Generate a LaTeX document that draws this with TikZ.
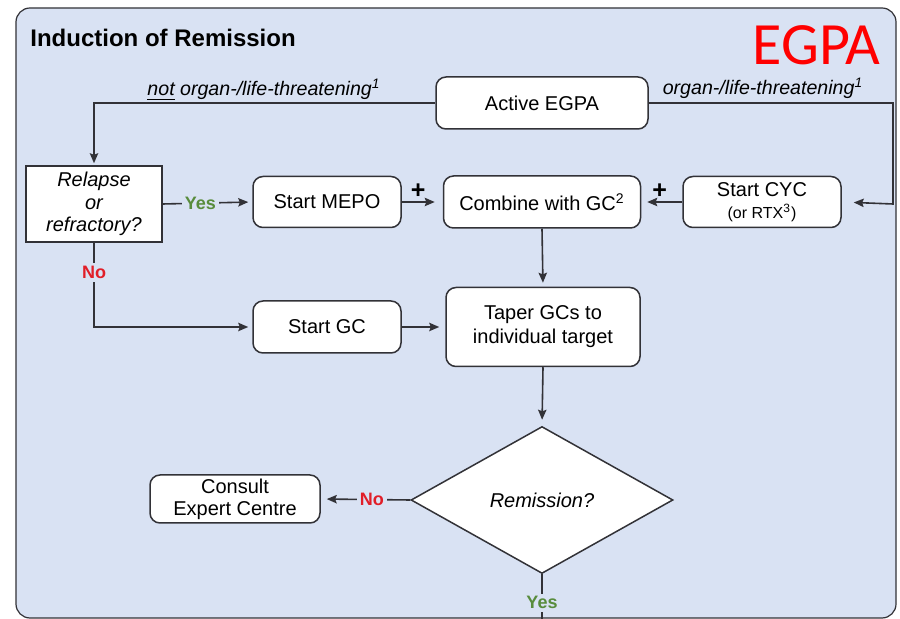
\documentclass[tikz,border=0pt]{standalone}
\usepackage{fontspec}
\setmainfont{Liberation Sans}
\newfontfamily\egpafont{Carlito}
\usetikzlibrary{shapes.geometric,arrows.meta}
\definecolor{panelblue}{RGB}{217,226,243}
\definecolor{linegray}{RGB}{50,50,55}
\definecolor{yesgreen}{RGB}{88,140,60}
\definecolor{nored}{RGB}{225,30,40}
\begin{document}
\begin{tikzpicture}[x=0.5pt,y=-0.5pt,
  box/.style={draw=linegray, line width=0.75pt, fill=white, rounded corners=5pt, align=center, font=\fontsize{10}{12}\selectfont, inner sep=0pt},
  arr/.style={draw=linegray, line width=0.8pt, -{Stealth[length=5pt,width=4.2pt,inset=0.8pt]}},
  ln/.style={draw=linegray, line width=0.8pt},
  lab/.style={fill=panelblue, inner sep=1.5pt, font=\bfseries\fontsize{9}{11}\selectfont},
  cond/.style={font=\itshape\fontsize{9.8}{12}\selectfont, anchor=base, inner sep=0pt},
  plus/.style={font=\bfseries\fontsize{12.5}{13}\selectfont, inner sep=1.5pt},
]
\useasboundingbox (0,0) rectangle (900,619);
\fill[white] (0,0) rectangle (900,619);
\draw[draw=linegray, line width=0.6pt, fill=panelblue, rounded corners=7pt] (16,8) rectangle (896,618);

\node[anchor=base west, inner sep=0pt, font=\bfseries\fontsize{12}{14}\selectfont] (title) at (30,47) {Induction of Remission};
\node[anchor=base east, inner sep=0pt, text=red, font=\egpafont\fontsize{30}{36}\selectfont] (egpa) at (881,65) {EGPA};

\node[box, minimum width=106pt, minimum height=26pt] (active) at (542,103) {Active EGPA};
\node[box, rounded corners=0pt, font=\itshape\fontsize{10}{11.2}\selectfont, minimum width=68pt, minimum height=38pt] (rel) at (94,204) {Relapse\\or\\refractory?};
\node[box, minimum width=74pt, minimum height=25.5pt] (mepo) at (327,202) {Start MEPO};
\node[box, minimum width=98.5pt, minimum height=26pt] (comb) at (542,202) {Combine with GC\textsuperscript{2}};
\node[box, minimum width=79pt, minimum height=25.5pt] (cyc) at (762,202) {Start CYC\\[-1pt]{\fontsize{8}{9}\selectfont (or RTX\textsuperscript{3})}};
\node[box, minimum width=74pt, minimum height=26pt] (sgc) at (327,327) {Start GC};
\node[box, minimum width=97pt, minimum height=39.5pt] (taper) at (543,327) {Taper GCs to\\individual target};
\node[draw=linegray, line width=0.75pt, fill=white, diamond, minimum width=131pt, minimum height=73.5pt, inner sep=0pt, font=\itshape\fontsize{10}{12}\selectfont] (dia) at (542,500) {Remission?};
\node[box, minimum width=85pt, minimum height=24pt, font=\fontsize{10}{11}\selectfont] (consult) at (235,499) {Consult\\Expert Centre};

\coordinate (rc) at (893,204);
\coordinate (nc) at (94,327);
\coordinate (bot) at (542,619);

\draw[arr, shorten >=1pt] (active.west) -| (rel.north);
\node[cond] (notlab) at (264,96) {\underline{not} organ-/life-threatening\textsuperscript{1}};
\draw[arr, shorten >=6pt] (active.east) -| (rc) -- (cyc.east);
\node[cond] (orglab) at (763,95) {organ-/life-threatening\textsuperscript{1}};

\draw[arr, shorten >=2pt] (rel.east) -- node[lab, text=yesgreen, pos=0.42] (yes1) {Yes} (mepo.west);
\draw[arr, shorten >=4pt] (mepo.east) -- node[plus, above, xshift=-2pt] (p1) {+} (comb.west);
\draw[arr, shorten >=3pt] (cyc.west) -- node[plus, above, xshift=-1pt] (p2) {+} (comb.east);
\draw[arr, shorten >=2pt] (comb.south) -- (taper.north);
\draw[arr, shorten >=2pt] (rel.south) -- node[lab, text=nored, pos=0.35] (no1) {No} (nc) -- (sgc.west);
\draw[arr, shorten >=3pt] (sgc.east) -- (taper.west);
\draw[arr, shorten >=3pt] (taper.south) -- (dia.north);
\draw[arr, shorten >=3pt] (dia.west) -- node[lab, text=nored, pos=0.43] (no2) {No} (consult.east);
\draw[ln] (dia.south) -- node[lab, text=yesgreen, pos=0.64] (yes2) {Yes} (bot);
\end{tikzpicture}
\end{document}
